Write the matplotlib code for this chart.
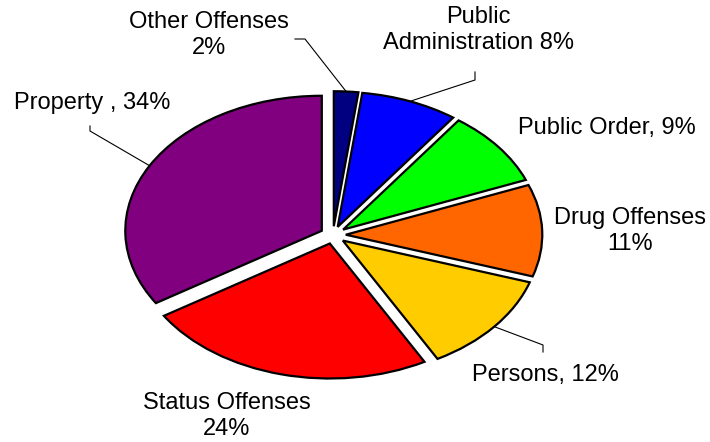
import numpy as np
import matplotlib
matplotlib.use("Agg")
from matplotlib import pyplot as plt

# Offense categories, clockwise from 12 o'clock
categories = ["Other Offenses", "Public Administration", "Public Order",
              "Drug Offenses", "Persons", "Status Offenses", "Property"]
shares = [2, 8, 9, 11, 12, 24, 34]
colors = ["#000080", "#0000FF", "#00FF00", "#FF6600", "#FFCC00", "#FF0000", "#800080"]
label_texts = ["Other Offenses\n2%", "Public\nAdministration 8%", "Public Order, 9%",
               "Drug Offenses\n11%", "Persons, 12%", "Status Offenses\n24%", "Property , 34%"]

W, H = 710, 442
CX, CY = 333, 235          # pie centre in pixels (from top)
RX, RY = 196.5, 135.0      # ellipse radii in pixels
EXPLODE = 0.065

plt.rcParams['font.family'] = ['Liberation Sans', 'DejaVu Sans']

fig = plt.figure(figsize=(W / 100, H / 100), dpi=100)
ax = fig.add_axes([0, 0, 1, 1])

ax.pie(shares, colors=colors, startangle=90, counterclock=False,
       explode=[EXPLODE] * len(shares),
       wedgeprops=dict(edgecolor="black", linewidth=1.6))
ax.set_aspect('auto')
ax.set_xlim(-CX / RX, (W - CX) / RX)
ax.set_ylim(-(H - CY) / RY, CY / RY)
ax.axis('off')


def px(x, y):
    """pixel position (y from top) -> data coordinates"""
    return (x - CX) / RX, (CY - y) / RY


def edge_point(i):
    """outer edge of exploded wedge i at its mid angle"""
    cum = np.cumsum([0] + shares) / sum(shares)
    mid = (cum[i] + cum[i + 1]) / 2 * 2 * np.pi
    d = np.array([np.sin(mid), np.cos(mid)])
    return d * (1 + EXPLODE)


# leader lines: wedge edge -> elbow -> end
leaders = {
    0: [(305, 39), (295, 39)],
    1: [(475, 80), (475, 72)],
    4: [(543, 345), (543, 352)],
    6: [(90, 131), (90, 126)],
}
for i, pts in leaders.items():
    xs, ys = [edge_point(i)[0]], [edge_point(i)[1]]
    for p in pts:
        x, y = px(*p)
        xs.append(x)
        ys.append(y)
    ax.plot(xs, ys, color="black", linewidth=0.8)

# label centres in pixels
label_pos = [(209, 35), (478, 30), (607, 128), (630, 231), (545, 375), (227, 416), (92, 103)]
for text, (x, y) in zip(label_texts, label_pos):
    ax.text(*px(x, y), text, ha="center", va="center", fontsize=17,
            linespacing=1.25, color="black")

fig.savefig("out.png", dpi=100)
